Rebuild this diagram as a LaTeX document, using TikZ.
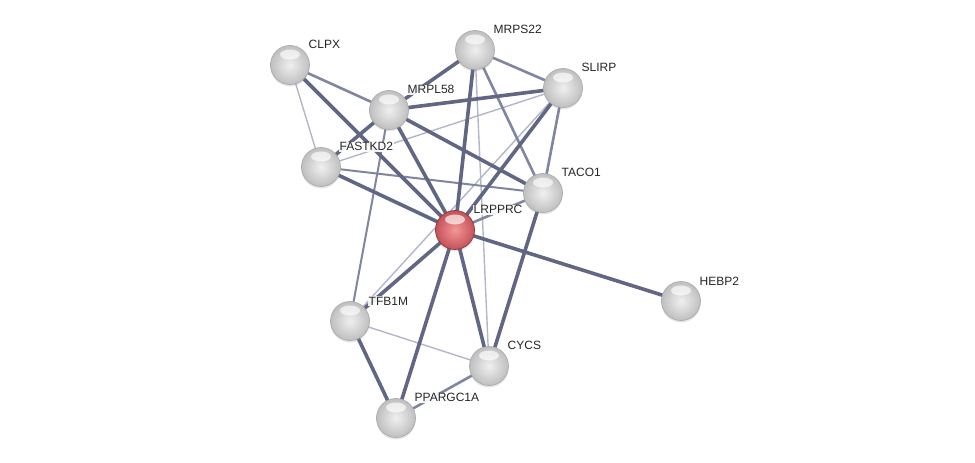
\documentclass[tikz,border=0pt]{standalone}
\usepackage{fontspec}
\setmainfont{Liberation Sans}
\usepackage{tikz}
\usetikzlibrary{backgrounds,shadows}
\definecolor{edk}{RGB}{96,102,132}
\definecolor{emd}{RGB}{128,134,162}
\definecolor{elt}{RGB}{178,182,202}
\definecolor{hubin}{RGB}{244,150,150}
\definecolor{hubout}{RGB}{196,82,88}
\tikzset{
  prot/.style={circle,minimum size=39pt,inner sep=0pt,draw=gray!65,line width=0.7pt,
    inner color=gray!12,outer color=gray!50,
    drop shadow={shadow xshift=0pt,shadow yshift=-2pt,opacity=0.2},
    path picture={\fill[white,opacity=0.65] ([yshift=-9pt]path picture bounding box.north) ellipse (10pt and 5pt);}},
  hub/.style={prot,inner color=hubin,outer color=hubout,draw=hubout!70!black},
  lbl/.style={font=\fontsize{12}{14}\selectfont,inner sep=1pt,text=black!85,
    fill=white,fill opacity=0.9,text opacity=1},
  strong/.style={line width=3.6pt,draw=edk},
  medium/.style={line width=2.6pt,draw=emd},
  weak/.style={line width=1.4pt,draw=elt},
}
\begin{document}
\begin{tikzpicture}[x=1pt,y=-1pt,label distance=3pt]
\useasboundingbox (0,0) rectangle (975,463);
% proteins
\node[prot,label={[lbl]40:CLPX}]      (clpx)  at (290,65)  {};
\node[prot,label={[lbl]40:MRPS22}]    (mrps)  at (475,50)  {};
\node[prot,label={[lbl]40:SLIRP}]     (slirp) at (563,88)  {};
\node[prot,label={[lbl]40:MRPL58}]    (mrpl)  at (389,110) {};
\node[prot,label={[lbl]40:FASTKD2}]   (fast)  at (321,167) {};
\node[prot,label={[lbl]40:TACO1}]     (taco)  at (543,193) {};
\node[hub,label={[lbl]40:LRPPRC}]     (lrp)   at (455,230) {};
\node[prot,label={[lbl]40:HEBP2}]     (hebp)  at (681,301) {};
\node[prot,label={[lbl]40:TFB1M}]     (tfb)   at (350,321) {};
\node[prot,label={[lbl]40:CYCS}]      (cycs)  at (489,366) {};
\node[prot,label={[lbl]40:PPARGC1A}]  (ppar)  at (396,418) {};

\begin{scope}[on background layer]
% weak evidence
\draw[weak] (clpx.center) -- (fast.center);
\draw[weak] (mrps.center) -- (cycs.center);
\draw[weak] (fast.center) -- (slirp.center);
\draw[weak] (slirp.center) -- (tfb.center);
\draw[weak] (tfb.center) -- (cycs.center);
% medium
\draw[medium] (clpx.center) -- (mrpl.center);
\draw[medium] (mrps.center) -- (slirp.center);
\draw[medium] (mrps.center) -- (taco.center);
\draw[medium] (slirp.center) -- (taco.center);
\draw[medium] (taco.center) -- (lrp.center);
\draw[medium,line width=2pt] (fast.center) -- (taco.center);
\draw[medium] (ppar.center) -- (cycs.center);
\draw[medium,line width=2pt] (mrpl.center) -- (tfb.center);
% strong
\draw[strong] (clpx.center) -- (lrp.center);
\draw[strong] (mrps.center) -- (mrpl.center);
\draw[strong] (mrps.center) -- (lrp.center);
\draw[strong] (mrpl.center) -- (slirp.center);
\draw[strong] (mrpl.center) -- (lrp.center);
\draw[strong] (mrpl.center) -- (taco.center);
\draw[strong] (mrpl.center) -- (fast.center);
\draw[strong] (fast.center) -- (lrp.center);
\draw[strong] (slirp.center) -- (lrp.center);
\draw[strong] (taco.center) -- (cycs.center);
\draw[strong] (lrp.center) -- (hebp.center);
\draw[strong] (lrp.center) -- (tfb.center);
\draw[strong] (lrp.center) -- (ppar.center);
\draw[strong] (lrp.center) -- (cycs.center);
\draw[strong] (tfb.center) -- (ppar.center);
\end{scope}
\end{tikzpicture}
\end{document}
